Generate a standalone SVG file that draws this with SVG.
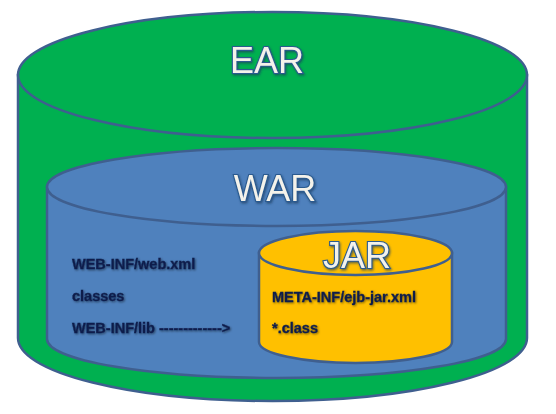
<svg xmlns="http://www.w3.org/2000/svg" width="556" height="414" viewBox="0 0 556 414">
<defs>
<style>
.cyl{stroke:#3F5F8F;stroke-width:2.5}
.ear{fill:#00B050}
.war{fill:#4F81BD}
.jar{fill:#FFC000}
.title{font-family:"Liberation Sans",Arial,sans-serif;font-size:36px;fill:#F4F2EA;stroke:#2A5A8F;stroke-width:2.2;paint-order:stroke;text-anchor:middle;filter:url(#sh)}
.lbl{font-family:"Liberation Sans",Arial,sans-serif;font-size:14.5px;font-weight:bold;fill:#0E1E4C;stroke:#0E1E4C;stroke-width:0.3;filter:url(#sh2)}
</style>
<filter id="sh" x="-20%" y="-20%" width="140%" height="140%">
<feDropShadow dx="1" dy="1.5" stdDeviation="1" flood-color="#1F3A60" flood-opacity="0.7"/>
</filter>
<filter id="sh2" x="-10%" y="-20%" width="120%" height="140%">
<feDropShadow dx="1" dy="1" stdDeviation="0.8" flood-color="#000000" flood-opacity="0.5"/>
</filter>
</defs>
<g id="ear">
<path class="cyl ear" d="M18,75 L18,338 A254.5,63 0 0 0 527,338 L527,75 Z"/>
<ellipse class="cyl ear" cx="272.5" cy="75" rx="254.5" ry="63"/>
<text class="title" x="267" y="73">EAR</text>
</g>
<g id="war">
<path class="cyl war" d="M47,187 L47,339 A229.5,39 0 0 0 506,339 L506,187 Z"/>
<ellipse class="cyl war" cx="276.5" cy="187" rx="229.5" ry="39"/>
<text class="title" x="275" y="201">WAR</text>
<text class="lbl" x="72" y="269">WEB-INF/web.xml</text>
<text class="lbl" x="72" y="301">classes</text>
<text class="lbl" x="72" y="333">WEB-INF/lib -------------&gt;</text>
</g>
<g id="jar">
<path class="cyl jar" d="M259,253 L259,342 A96.5,21 0 0 0 452,342 L452,253 Z"/>
<ellipse class="cyl jar" cx="355.5" cy="253" rx="96.5" ry="22"/>
<text class="title" x="357" y="268">JAR</text>
<text class="lbl" x="272" y="302">META-INF/ejb-jar.xml</text>
<text class="lbl" x="272" y="333">*.class</text>
</g>
<g id="connectors"/>
</svg>
